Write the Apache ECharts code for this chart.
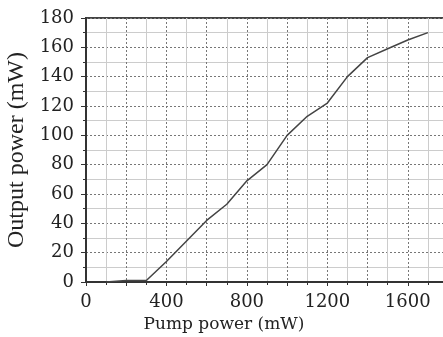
<!DOCTYPE html>
<html><head><meta charset="utf-8">
<script src="https://cdn.jsdelivr.net/npm/echarts@6/dist/echarts.min.js"></script>
<style>html,body{margin:0;padding:0;background:#fff}#c{width:443px;height:337px}</style>
</head><body><div id="c"></div>
<script>
var pumpPower = [100, 200, 300, 400, 500, 600, 700, 800, 900, 1000, 1100, 1200, 1300, 1400, 1500, 1600, 1700];
var outputPower = [0, 1, 1, 14, 28, 42, 53, 69, 80, 100, 113, 122, 140, 153, 159, 165, 170];
var xTickLabels = [0, 400, 800, 1200, 1600];
var yTickLabels = [0, 20, 40, 60, 80, 100, 120, 140, 160, 180];

var font = 'DejaVu Serif';
var chart = echarts.init(document.getElementById('c'), null, {renderer: 'canvas'});
chart.setOption({
  animation: false,
  grid: {left: 86, top: 18, bottom: 55, width: 362, containLabel: false, outerBoundsMode: 'none',
    show: true, borderColor: '#444', borderWidth: 2, backgroundColor: 'transparent'},
  xAxis: {
    type: 'value', min: 0, max: 1800, interval: 200,
    name: 'Pump power (mW)', nameLocation: 'middle', nameGap: 32,
    nameTextStyle: {fontFamily: font, fontSize: 17, color: '#222', padding: [0, 86, 0, 0]},
    axisLine: {show: true, lineStyle: {color: '#333', width: 2}},
    axisTick: {show: true, length: 4, lineStyle: {color: '#333'}},
    minorTick: {show: true, splitNumber: 2, length: 3, lineStyle: {color: '#333'}},
    axisLabel: {fontFamily: font, fontSize: 18, color: '#222', margin: 11,
      formatter: function (v) { return xTickLabels.indexOf(v) >= 0 ? String(v) : ''; }},
    splitLine: {show: true, lineStyle: {color: '#777', type: [2, 2], width: 1}},
    minorSplitLine: {show: true, lineStyle: {color: '#ccc', width: 1}}
  },
  yAxis: {
    type: 'value', min: 0, max: 180, interval: 20,
    name: 'Output power (mW)', nameLocation: 'middle', nameGap: 47,
    nameTextStyle: {fontFamily: 'Liberation Serif', fontSize: 24, color: '#222'},
    axisLine: {show: true, lineStyle: {color: '#333', width: 2}},
    axisTick: {show: true, length: 5, lineStyle: {color: '#333'}},
    minorTick: {show: true, splitNumber: 2, length: 3, lineStyle: {color: '#333'}},
    axisLabel: {fontFamily: font, fontSize: 18, color: '#222', margin: 12,
      formatter: function (v) { return yTickLabels.indexOf(v) >= 0 ? String(v) : ''; }},
    splitLine: {show: true, lineStyle: {color: '#777', type: [2, 2], width: 1}},
    minorSplitLine: {show: true, lineStyle: {color: '#ccc', width: 1}}
  },
  series: [{
    type: 'line',
    data: pumpPower.map(function (p, i) { return [p, outputPower[i]]; }),
    showSymbol: false, symbol: 'none',
    lineStyle: {color: '#444', width: 1.5}
  }]
});
</script></body></html>
